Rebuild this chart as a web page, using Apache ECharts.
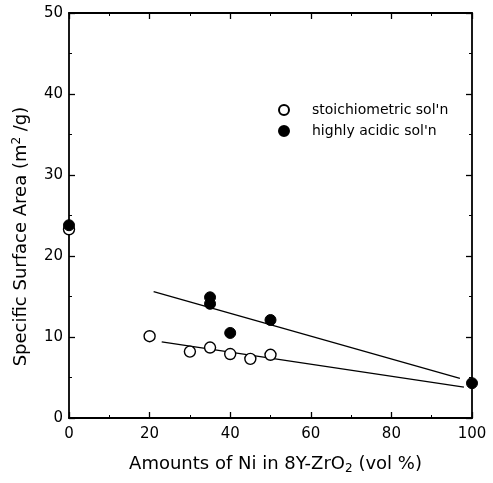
<!DOCTYPE html>
<html><head><meta charset="utf-8">
<script src="https://cdn.jsdelivr.net/npm/echarts@6/dist/echarts.min.js"></script>
<style>html,body{margin:0;padding:0;background:#fff}#c{width:493px;height:483px}</style>
</head><body><div id="c"></div>
<script>
const stoichX = [0, 20, 30, 35, 40, 45, 50];
const stoichY = [23.3, 10.1, 8.2, 8.7, 7.9, 7.3, 7.8];
const acidX = [0, 35, 35, 40, 50, 100];
const acidY = [23.8, 14.1, 14.9, 10.5, 12.1, 4.3];
const stoichFitX = [23, 98];
const stoichFitY = [9.4, 3.8];
const acidFitX = [21, 97];
const acidFitY = [15.6, 4.9];
const xTicks = [0, 20, 40, 60, 80, 100];
const yTicks = [0, 10, 20, 30, 40, 50];

const zip = (a, b) => a.map((v, i) => [v, b[i]]);
const font = '"DejaVu Sans", sans-serif';
const chart = echarts.init(document.getElementById('c'), null, {renderer: 'canvas'});
const axisCommon = () => ({
  axisLine: {show: true, onZero: false, lineStyle: {color: '#000', width: 1.8}},
  axisTick: {show: true, inside: true, length: 6, lineStyle: {color: '#000', width: 1.3}},
  minorTick: {show: true, splitNumber: 2, length: 3, lineStyle: {color: '#000', width: 1}},
  splitLine: {show: false}
});
chart.setOption({
  animation: false,
  backgroundColor: '#fff',
  grid: {left: 69, right: 21, top: 13, bottom: 65},
  legend: {
    orient: 'vertical', left: 273, top: 98, itemGap: 7, itemWidth: 10, itemHeight: 10,
    textStyle: {fontFamily: font, fontSize: 14, color: '#000', padding: [0, 0, 0, 18]},
    data: [{name: "stoichiometric sol'n", icon: 'circle'}, {name: "highly acidic sol'n", icon: 'circle'}]
  },
  xAxis: [
    Object.assign(axisCommon(), {
      type: 'value', min: xTicks[0], max: xTicks[xTicks.length - 1], interval: 20,
      name: 'Amounts of Ni in 8Y-ZrO{sub|2} (vol %)', nameLocation: 'middle', nameGap: 36,
      nameTextStyle: {fontFamily: font, fontSize: 18, color: '#000', padding: [0, 0, 0, 10],
        rich: {sub: {fontFamily: font, fontSize: 12, color: '#000', verticalAlign: 'bottom', padding: [9, 0, 0, 0]}}},
      axisLabel: {fontFamily: font, fontSize: 15, color: '#000', margin: 9}
    }),
    Object.assign(axisCommon(), {
      type: 'value', min: 0, max: 100, interval: 20, position: 'top',
      axisLabel: {show: false}
    })
  ],
  yAxis: [
    Object.assign(axisCommon(), {
      type: 'value', min: yTicks[0], max: yTicks[yTicks.length - 1], interval: 10,
      name: 'Specific Surface Area (m{sup|2} /g)', nameLocation: 'middle', nameGap: 37,
      nameTextStyle: {fontFamily: font, fontSize: 18, color: '#000', padding: [0, 42, 0, 0],
        rich: {sup: {fontFamily: font, fontSize: 12, color: '#000', verticalAlign: 'top', padding: [0, 0, 9, 0]}}},
      axisLabel: {fontFamily: font, fontSize: 15, color: '#000', margin: 6}
    }),
    Object.assign(axisCommon(), {
      type: 'value', min: 0, max: 50, interval: 10, position: 'right',
      axisLabel: {show: false}
    })
  ],
  series: [
    {name: "stoichiometric sol'n", type: 'scatter', data: zip(stoichX, stoichY), symbol: 'circle', symbolSize: 11,
     itemStyle: {color: '#fff', borderColor: '#000', borderWidth: 1.4, opacity: 1}, z: 4},
    {name: "highly acidic sol'n", type: 'scatter', data: zip(acidX, acidY), symbol: 'circle', symbolSize: 11,
     itemStyle: {color: '#000', borderColor: '#000', borderWidth: 1, opacity: 1}, z: 5},
    {name: 'fitS', type: 'line', data: zip(stoichFitX, stoichFitY), symbol: 'none',
     lineStyle: {color: '#000', width: 1.3}, z: 2},
    {name: 'fitA', type: 'line', data: zip(acidFitX, acidFitY), symbol: 'none',
     lineStyle: {color: '#000', width: 1.3}, z: 2}
  ]
});
</script></body></html>
